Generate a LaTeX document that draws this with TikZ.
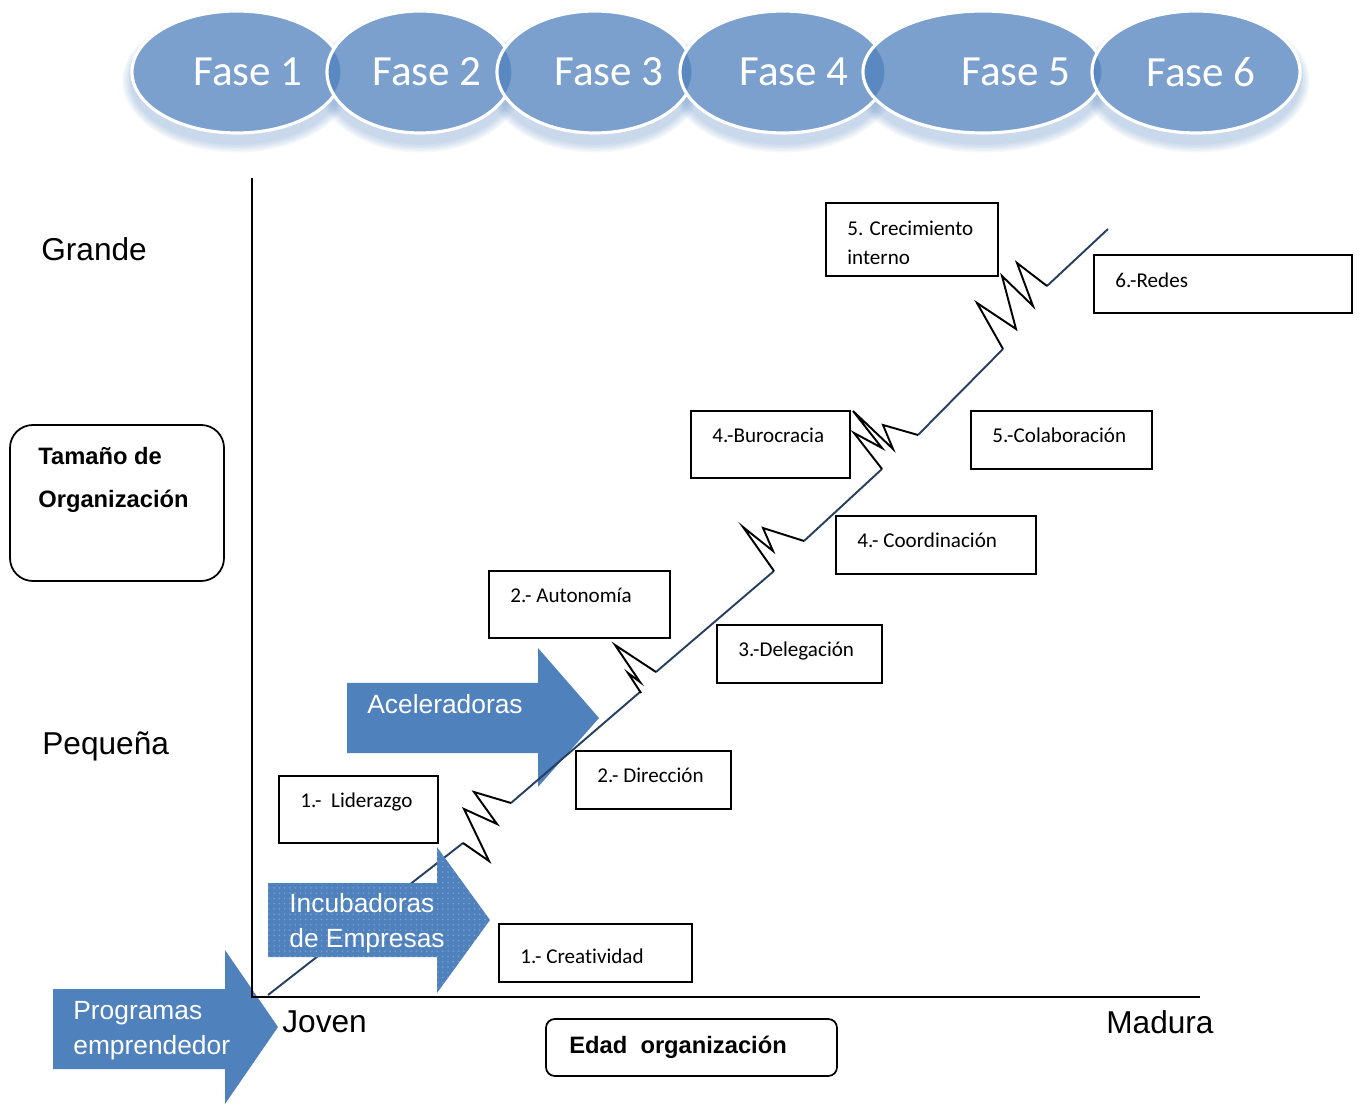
\documentclass[tikz,border=0pt]{standalone}
\usepackage{fontspec}
\setmainfont{Liberation Sans}
\newfontfamily\calibri[Ligatures=NoCommon]{Carlito}
\usetikzlibrary{calc,patterns}
\definecolor{ofcblue}{HTML}{4F81BD}
\definecolor{navy}{HTML}{254061}
\tikzset{
  fase/.style={fill=ofcblue, fill opacity=0.75, draw=white, line width=1.8pt},
  fasetxt/.style={text=white, font=\calibri\fontsize{24.5}{28}\selectfont, inner sep=0pt},
  stagebox/.style={draw=black, line width=1pt},
  boxtxt/.style={anchor=west, font=\calibri\fontsize{12}{16.5}\selectfont, inner sep=0pt, align=left},
  trend/.style={navy, line width=1.1pt},
  spring/.style={black, line width=1.1pt, line join=miter},
  axis/.style={black, line width=1.1pt},
  axlab/.style={anchor=west, font=\fontsize{18}{21}\selectfont, inner sep=0pt},
  arrtxt/.style={anchor=west, text=white, font=\fontsize{15}{20}\selectfont, inner sep=0pt, align=left},
  bigarrow/.style={fill=ofcblue},
  titlebox/.style={draw=black, line width=1pt, rounded corners=#1},
  titletxt/.style={anchor=west, font=\bfseries\fontsize{13.5}{24.5}\selectfont, inner sep=0pt, align=left},
}

\begin{document}
\begin{tikzpicture}[x=0.02cm,y=-0.02cm]
  \useasboundingbox (0,0) rectangle (1363,1104);
  % phases on top
  \foreach \cx/\rx in {237/105, 420/93, 595/98, 783/103, 983/120, 1196/104}
    \foreach \k in {1,...,6}
      \fill[ofcblue, opacity=0.06] (\cx,81) ellipse ({\rx+\k*1.6} and {62+\k*1.6});
  \foreach \cx/\rx in {237/105, 420/93, 595/98, 783/103, 983/120, 1196/104}
    \fill[white] (\cx,72) ellipse ({\rx} and {61});
  \foreach \cx/\rx/\tx/\n in {237/105/248/1, 420/93/427/2, 595/98/609/3, 783/103/794/4, 983/120/1016/5, 1196/104/1201/6} {
    \filldraw[fase] (\cx,72) ellipse ({\rx} and {61});
    \node[fasetxt] (fase\n) at (\tx,72) {Fase \n};
  }

  % growth line, first piece runs under the incubator arrow
  \draw[trend] (268,995) -- (463,843);

  % support programmes
  \fill[bigarrow] (268,883) -- (437,883) -- (437,847) -- (490,920) -- (437,993) -- (437,957) -- (268,957) -- cycle;
  \fill[pattern=dots, pattern color=white, fill opacity=0.25] (268,883) -- (437,883) -- (437,847) -- (490,920) -- (437,993) -- (437,957) -- (268,957) -- cycle;
  \fill[bigarrow] (53,989) -- (225,989) -- (225,950) -- (278,1027) -- (225,1104) -- (225,1069) -- (53,1069) -- cycle;
  \fill[bigarrow] (347,683) -- (538,683) -- (538,648) -- (599,718) -- (538,787) -- (538,753) -- (347,753) -- cycle;
  \node[arrtxt] (incub) at (289,923) {Incubadoras\\de Empresas};
  \node[arrtxt] (progr) at (73,1031) {Programas\\emprendedor};
  \node[arrtxt] (acel) at (367,704) {Aceleradoras};

  % axes
  \draw[axis] (252,178) -- (252,997) -- (1200,997);
  \node[axlab] (grande) at (41,249) {Grande};
  \node[axlab] (pequena) at (42,746) {Pequeña};
  \node[axlab] (joven) at (282,1022) {Joven};
  \node[axlab] (madura) at (1106,1022) {Madura};

  % growth line with crises
  \draw[trend] (511,803) -- (640,692);
  \draw[trend] (656,672) -- (774,571);
  \draw[trend] (804,541) -- (882,469);
  \draw[trend] (918,435) -- (1003,349);
  \draw[trend] (1047,286) -- (1108,229);
  \draw[spring] (463,843) -- (489,861) -- (464,809) -- (497,824) -- (474,792) -- (511,803);
  \draw[spring] (641,693) -- (628,673) -- (640,682) -- (615,645) -- (656,672);
  \draw[spring] (774,571) -- (743,527) -- (773,551) -- (763,528) -- (804,541);
  \draw[spring] (882,469) -- (854,433) -- (882,448) -- (853,411) -- (893,449) -- (883,425) -- (918,435);
  \draw[spring] (1003,349) -- (977,303) -- (1016,329) -- (1002,276) -- (1033,306) -- (1017,263) -- (1047,286);

  % stages and crises
  \foreach \nm/\xa/\ya/\xb/\yb/\dy/\txt in {
      creci/826/203/998/276/40/{5. Crecimiento\\interno},
      redes/1094/255/1352/313/25/{6.-Redes},
      buro/691/411/850/478/24/{4.-Burocracia},
      colab/971/411/1152/469/24/{5.-Colaboración},
      coord/836/516/1036/574/24/{4.- Coordinación},
      auton/489/571/670/638/24/{2.- Autonomía},
      deleg/717/625/882/683/26/{3.-Delegación},
      direc/576/751/731/809/24/{2.- Dirección},
      lider/279/776/438/843/26/{1.-\ \ Liderazgo},
      creat/499/924/692/982/32/{1.- Creatividad}} {
    \draw[stagebox] (\xa,\ya) rectangle (\xb,\yb);
    \node[boxtxt] (\nm) at (\xa+21,\ya+\dy) {\txt};
  }

  % axis titles
  \draw[titlebox=13pt] (10,425) rectangle (224,581);
  \node[titletxt] (tamano) at (38,480) {Tamaño de\\Organización};
  \draw[titlebox=5pt] (546,1019) rectangle (837,1076);
  \node[titletxt] (edad) at (569,1047) {Edad\ \ organización};
\end{tikzpicture}
\end{document}
